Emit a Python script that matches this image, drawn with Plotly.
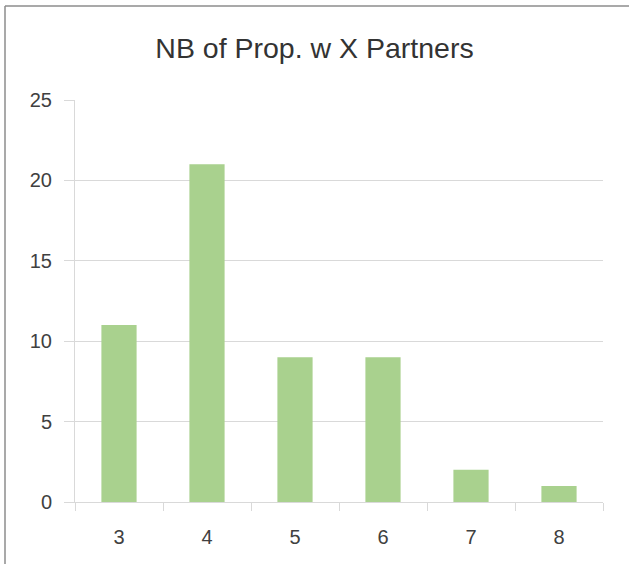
import plotly.graph_objects as go

categories = ["3", "4", "5", "6", "7", "8"]
counts = [11, 21, 9, 9, 2, 1]
title_text = "NB of Prop. w X Partners"

W, H = 629, 564
ml, mr, mt, mb = 75, 26, 100, 62
pw, ph = W - ml - mr, H - mt - mb

def px_x(x):
    return (x - ml) / pw

def px_y(y):
    return (H - mb - y) / ph

fig = go.Figure(go.Bar(x=categories, y=counts, marker_color="#a9d18e",
                       marker_line_width=0))

font_family = "Liberation Sans, Arial"
fig.update_layout(
    width=W, height=H,
    margin=dict(l=ml, r=mr, t=mt, b=mb, pad=0),
    paper_bgcolor="white", plot_bgcolor="white",
    bargap=0.6,
    showlegend=False,
    font=dict(family=font_family, color="#404040", size=20),
    title=dict(text=title_text, x=0.5, xanchor="center", y=1 - 48 / H,
               yanchor="middle", font=dict(size=28.5, color="#333333")),
)
fig.update_xaxes(type="category", tickson="boundaries", ticks="outside",
                 ticklen=8, tickcolor="#d9d9d9", showline=True,
                 linecolor="#d9d9d9", linewidth=1, showgrid=False,
                 ticklabelstandoff=17)
fig.update_yaxes(range=[0, 25], dtick=5, ticks="outside", ticklen=10,
                 tickcolor="#d9d9d9", showline=True, linecolor="#d9d9d9",
                 gridcolor="#d9d9d9", zeroline=False, ticklabelstandoff=8)

# outer chart border (left and top edges visible)
bx, by = px_x(5), px_y(6)
fig.add_shape(type="line", xref="paper", yref="paper", x0=bx, x1=bx,
              y0=by, y1=-0.5, line=dict(color="#8c8c8c", width=1.5))
fig.add_shape(type="line", xref="paper", yref="paper", x0=bx, x1=1.5,
              y0=by, y1=by, line=dict(color="#8c8c8c", width=1.5))

fig.write_html("out.html", config={"displayModeBar": False},
               post_script="document.body.style.margin='0';")
